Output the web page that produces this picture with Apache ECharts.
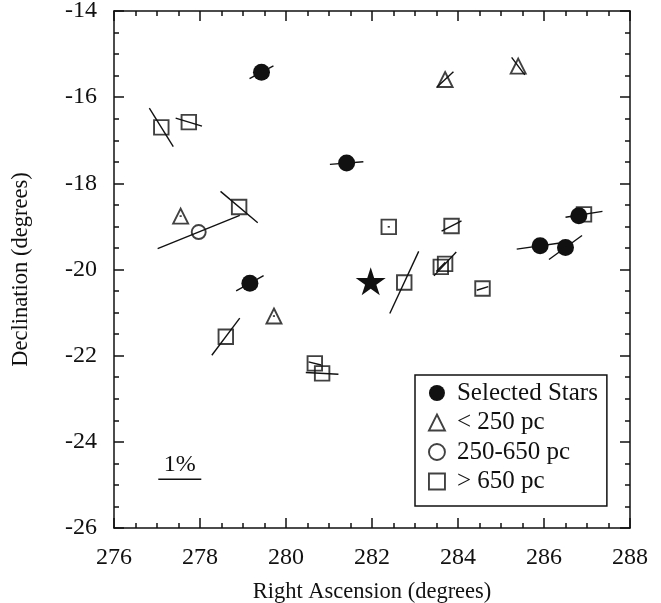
<!DOCTYPE html>
<html>
<head>
<meta charset="utf-8">
<script src="https://cdn.jsdelivr.net/npm/echarts@6/dist/echarts.min.js"></script>
<style>
html, body { margin: 0; padding: 0; background: #fff; }
#chart { width: 661px; height: 603px; }
</style>
</head>
<body>
<div id="chart"></div>
<script>
// selected stars (filled circles): position, polarization %, angle (deg, ccw from +RA on the plot)
const selX = [279.43, 281.41, 279.16, 285.91, 286.50, 286.81];
const selY = [-15.42, -17.53, -20.32, -19.45, -19.49, -18.75];
const selP = [0.63, 0.78, 0.73, 1.10, 0.95, 0.40];
const selA = [28, 4.5, 29, 8, 36, 10];

// < 250 pc (triangles)
const nearX = [277.55, 279.72, 283.70, 285.40];
const nearY = [-18.76, -21.08, -15.59, -15.28];
const nearP = [0.05, 0.05, 0.53, 0.51];
const nearA = [0, 0, 43, -53];

// 250-650 pc (open circles)
const midX = [277.97];
const midY = [-19.13];
const midP = [2.06];
const midA = [22];

// > 650 pc (squares)
const farX = [277.10, 277.74, 278.91, 282.39, 278.60, 280.67, 280.84, 282.75, 283.85, 283.60, 283.70, 284.57, 286.93];
const farY = [-16.70, -16.58, -18.55, -19.01, -21.56, -22.18, -22.41, -20.30, -18.99, -19.94, -19.87, -20.44, -18.72];
const farP = [1.05, 0.64, 1.13, 0.05, 1.08, 0.30, 0.76, 1.59, 0.52, 0.30, 0.76, 0.28, 0.87];
const farA = [-58, -17, -40, 0, 53, -14, -3, 65, 27, 45, 47, 17, 9];

// target (star)
const starX = [281.97];
const starY = [-20.27];

// 1% scale bar
const scaleX = [277.53];
const scaleY = [-24.87];
const scaleP = [1];
const scaleLabel = '1%';

const xMin = 276, xMax = 288, yMin = -26, yMax = -14;

const INK = '#111';
const FONT = 'Liberation Serif';

const zip = (xs, ys, ps, as) => xs.map((x, i) => ps ? [x, ys[i], ps[i], as[i]] : [x, ys[i]]);

const vecData = [].concat(
  zip(selX, selY, selP, selA),
  zip(nearX, nearY, nearP, nearA),
  zip(midX, midY, midP, midA),
  zip(farX, farY, farP, farA)
);

function vectorEnds(api) {
  const x = api.value(0), y = api.value(1), p = api.value(2);
  const a = api.value(3) * Math.PI / 180;
  const dx = p / 2 * Math.cos(a), dy = p / 2 * Math.sin(a);
  return [api.coord([x - dx, y - dy]), api.coord([x + dx, y + dy])];
}

const renderVector = (params, api) => {
  const [s, e] = vectorEnds(api);
  return {
    type: 'line',
    shape: { x1: s[0], y1: s[1], x2: e[0], y2: e[1] },
    style: { stroke: INK, lineWidth: 1.4 }
  };
}

const renderScale = (params, api) => {
  const [s, e] = vectorEnds(api);
  return {
    type: 'group',
    children: [
      { type: 'line', shape: { x1: s[0], y1: s[1], x2: e[0], y2: e[1] }, style: { stroke: INK, lineWidth: 1.5 } },
      { type: 'text', style: { text: scaleLabel, x: (s[0] + e[0]) / 2, y: s[1] - 3, align: 'center', verticalAlign: 'bottom', fontFamily: FONT, fontSize: 24, fill: INK } }
    ]
  };
}

const lineStyle = { color: INK, width: 1.5 };
const axisBase = {
  axisLine: { show: true, onZero: false, lineStyle },
  axisTick: { inside: true, length: 10, lineStyle },
  minorTick: { show: true, splitNumber: 4, length: 5, lineStyle },
  splitLine: { show: false },
  interval: 2
};

const hollow = { color: 'rgba(0,0,0,0)', borderColor: INK, borderWidth: 1.9 };
const starPath = 'path://M50,0 L61,35 L98,35 L68,57 L79,91 L50,70 L21,91 L32,57 L2,35 L39,35 Z';

const option = {
  animation: false,
  backgroundColor: '#fff',
  grid: { left: 114, right: 31, top: 11, bottom: 75, containLabel: false, outerBoundsMode: 'none' },
  xAxis: [
    Object.assign({}, axisBase, {
      type: 'value', position: 'bottom', min: xMin, max: xMax,
      name: 'Right Ascension (degrees)', nameLocation: 'middle', nameGap: 53,
      nameTextStyle: { fontFamily: FONT, fontSize: 22.5, color: INK },
      axisLabel: { fontFamily: FONT, fontSize: 24, color: INK, margin: 18 }
    }),
    Object.assign({}, axisBase, {
      type: 'value', position: 'top', min: xMin, max: xMax,
      axisLabel: { show: false }
    })
  ],
  yAxis: [
    Object.assign({}, axisBase, {
      type: 'value', position: 'left', min: yMin, max: yMax,
      name: 'Declination (degrees)', nameLocation: 'middle', nameGap: 81,
      nameTextStyle: { fontFamily: FONT, fontSize: 22.5, color: INK },
      axisLabel: { fontFamily: FONT, fontSize: 24, color: INK, margin: 17 }
    }),
    Object.assign({}, axisBase, {
      type: 'value', position: 'right', min: yMin, max: yMax,
      axisLabel: { show: false }
    })
  ],
  legend: {
    orient: 'vertical', left: 415, top: 375,
    padding: [5.5, 9, 12, 13], itemGap: 4.5, itemWidth: 16, itemHeight: 16,
    borderColor: INK, borderWidth: 1.5, borderRadius: 0, backgroundColor: '#fff',
    textStyle: { fontFamily: FONT, fontSize: 25, color: INK, lineHeight: 25, padding: [0, 0, 0, 7] },
    data: [
      { name: 'Selected Stars', icon: 'circle', itemStyle: { color: INK, borderWidth: 0 } },
      { name: '< 250 pc', icon: 'triangle', itemStyle: hollow },
      { name: '250-650 pc', icon: 'circle', itemStyle: hollow },
      { name: '> 650 pc', icon: 'rect', itemStyle: hollow }
    ]
  },
  series: [
    { name: 'vectors', type: 'custom', renderItem: renderVector, data: vecData, encode: { x: 0, y: 1 }, clip: false, z: 1, silent: true },
    { name: 'scale', type: 'custom', renderItem: renderScale, data: zip(scaleX, scaleY, scaleP, [0]), encode: { x: 0, y: 1 }, z: 1, silent: true },
    { name: '> 650 pc', type: 'scatter', symbol: 'rect', symbolSize: 14.5, data: zip(farX, farY), itemStyle: hollow, z: 2 },
    { name: '< 250 pc', type: 'scatter', symbol: 'triangle', symbolSize: 15, data: zip(nearX, nearY), itemStyle: hollow, z: 2 },
    { name: '250-650 pc', type: 'scatter', symbol: 'circle', symbolSize: 14, data: zip(midX, midY), itemStyle: hollow, z: 2 },
    { name: 'Selected Stars', type: 'scatter', symbol: 'circle', symbolSize: 17, data: zip(selX, selY), itemStyle: { color: INK, opacity: 1 }, z: 3 },
    { name: 'target', type: 'scatter', symbol: starPath, symbolSize: [30, 28], data: zip(starX, starY), itemStyle: { color: INK, opacity: 1 }, z: 4 }
  ]
};

const chart = echarts.init(document.getElementById('chart'));
chart.setOption(option);
</script>
</body>
</html>
